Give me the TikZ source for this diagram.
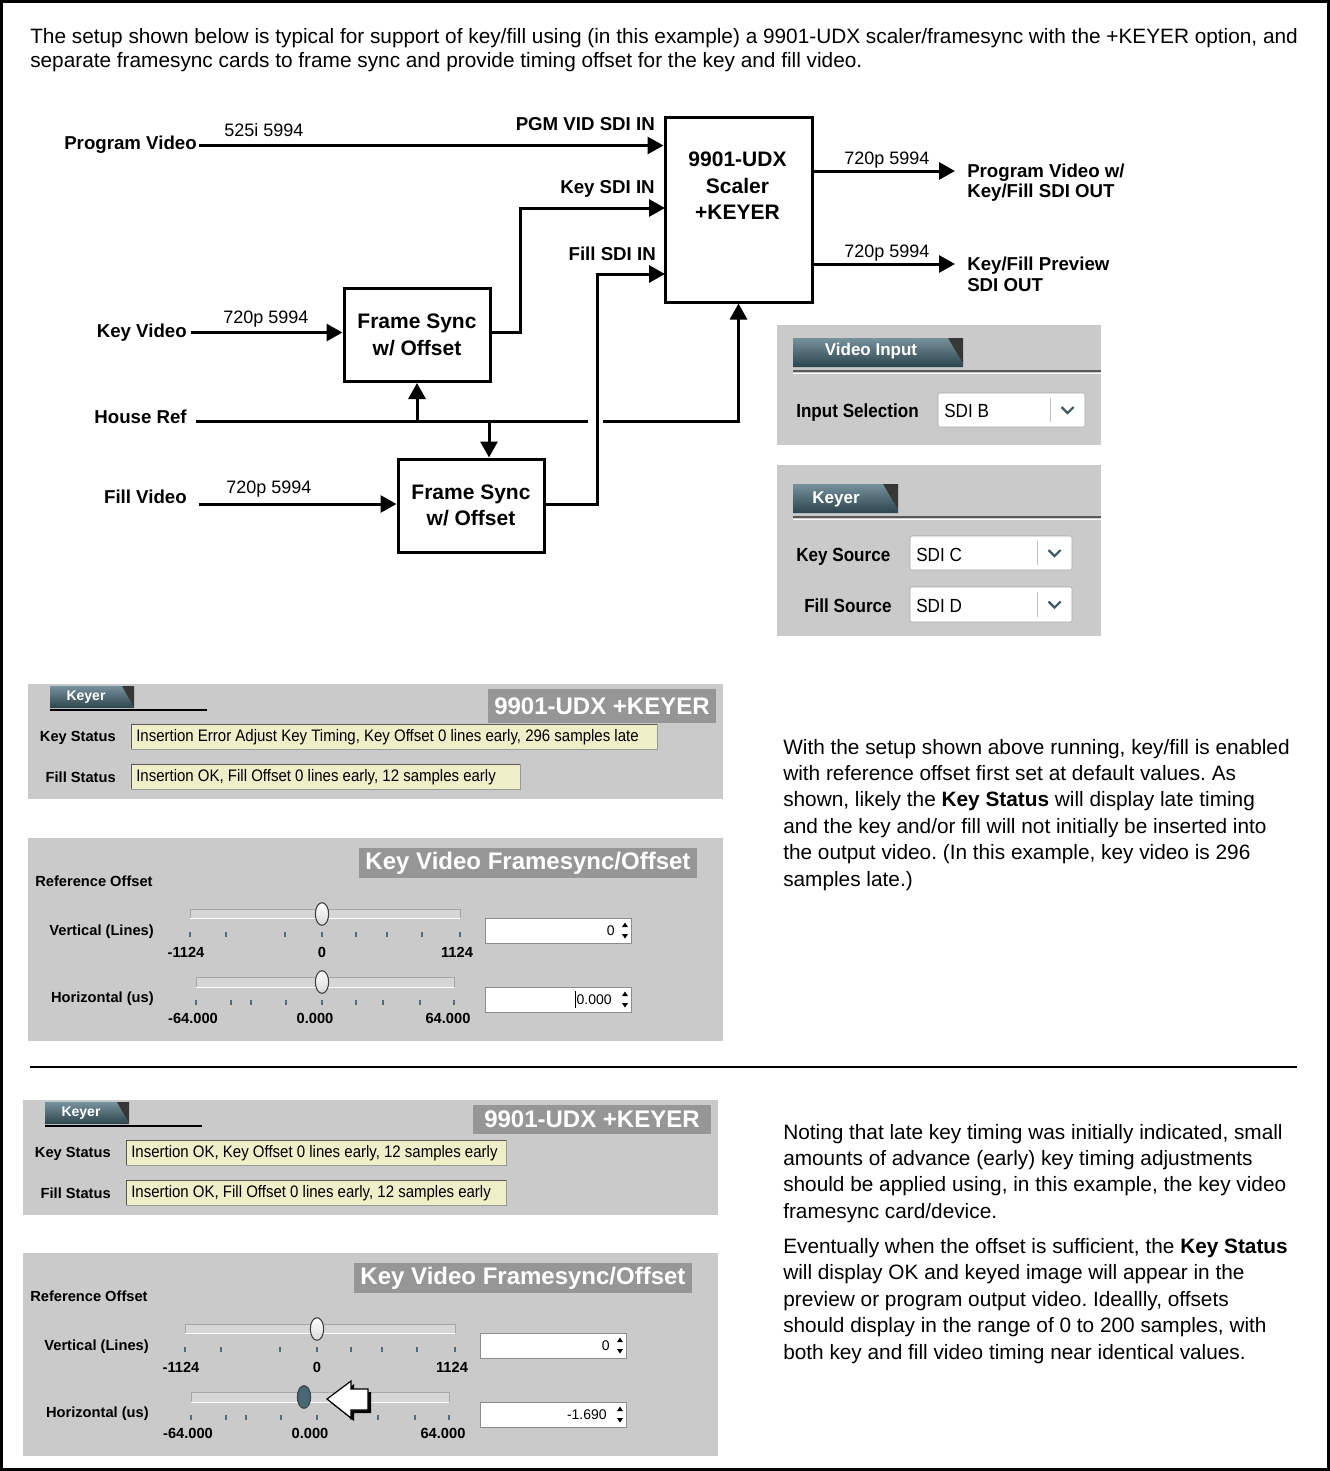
\documentclass[tikz,border=0pt]{standalone}
\usepackage{fontspec}
\setmainfont{Liberation Sans}
\newfontfamily\uifont[FakeStretch=0.9]{Liberation Sans}
\usetikzlibrary{arrows.meta,calc}
\frenchspacing
\definecolor{panelbg}{RGB}{202,202,202}
\definecolor{fieldy}{RGB}{238,238,200}
\definecolor{titlegray}{RGB}{150,150,150}
\definecolor{tabtop}{RGB}{118,146,156}
\definecolor{tabbot}{RGB}{44,68,78}
\definecolor{tabdark}{RGB}{55,55,55}
\definecolor{tickc}{RGB}{80,110,120}
\definecolor{chevc}{RGB}{60,90,100}
\definecolor{trackc}{RGB}{214,214,214}
\definecolor{thumbdark}{RGB}{72,104,118}

\tikzset{
 lbl/.style={font=\fontsize{14}{16}\selectfont\bfseries, inner sep=0pt},
 rate/.style={font=\fontsize{13.5}{15}\selectfont, inner sep=0pt, anchor=base west},
 blk/.style={draw, line width=2.25pt, inner sep=0pt},
 blktxt/.style={font=\fontsize{15.75}{19.7}\selectfont\bfseries, align=center, inner sep=0pt},
 wire/.style={line width=2.25pt},
 arr/.style={line width=2.25pt, -{Triangle[length=12pt,width=12.75pt]}},
 body/.style={font=\fontsize{15.6}{18}\selectfont, anchor=base west, inner sep=0pt},
 uir/.style={font=\uifont\fontsize{14.25}{17}\selectfont\bfseries, inner sep=0pt, anchor=base west},
 uirv/.style={font=\uifont\fontsize{14.25}{17}\selectfont, inner sep=0pt, anchor=base west},
 uib/.style={font=\fontsize{11}{13}\selectfont\bfseries, inner sep=0pt},
 fieldtxt/.style={font=\uifont\fontsize{12.5}{14}\selectfont, inner sep=0pt, anchor=base west},
 valtxt/.style={font=\fontsize{10.5}{12}\selectfont, inner sep=0pt, anchor=base east},
 titletxt/.style={font=\fontsize{18}{21}\selectfont\bfseries, text=white, inner sep=0pt},
 tabtxt/.style={font=\fontsize{12.75}{15}\selectfont\bfseries, text=white, inner sep=0pt, anchor=base},
 stabtxt/.style={font=\fontsize{10.5}{12}\selectfont\bfseries, text=white, inner sep=0pt, anchor=base},
}

% dropdown: #1 x1, #2 y1, #3 x2, #4 y2, #5 separator x
\newcommand\DropBox[5]{%
 \filldraw[fill=white, draw=black!35, rounded corners=1.5pt] (#1,#2) rectangle (#3,#4);
 \draw[black!25] (#5,{#2+5}) -- (#5,{#4-5});
 \draw[chevc, line width=1.6pt] ({(#5+#3)/2-6},{(#2+#4)/2-3}) -- ({(#5+#3)/2},{(#2+#4)/2+3}) -- ({(#5+#3)/2+6},{(#2+#4)/2-3});
}

% status panel: #1 shift, #2 suffix, #3 key text, #4 key field right, #5 fill field right, #6 title left, #7 title bottom
\newcommand\StatusPanel[7]{%
\begin{scope}[shift={#1}]
 \fill[panelbg] (28,684) rectangle (723,799);
 \shade[top color=tabtop, bottom color=tabbot] (50,686) -- (122,686) -- (134,708) -- (50,708) -- cycle;
 \fill[tabdark] (122,686) -- (134,686) -- (134,708) -- cycle;
 \draw[line width=1.2pt] (50,710) -- (207,710);
 \node[stabtxt] (kt#2) at (86,700) {Keyer};
 \fill[titlegray] (#6,689) rectangle (716,#7);
 \node[titletxt] (tt#2) at ({(#6+716)/2},{(689+#7)/2}) {9901-UDX +KEYER};
 \node[uib, anchor=base east] (ks#2) at (116,741) {Key Status};
 \filldraw[fill=fieldy, draw=black!40] (131,724) rectangle (#4,749);
 \draw[black!65] (131,749) -- (131,724) -- (#4,724);
 \node[fieldtxt] (kf#2) at (136,741) {#3};
 \node[uib, anchor=base east] (fs#2) at (116,782) {Fill Status};
 \filldraw[fill=fieldy, draw=black!40] (131,764) rectangle (#5,789);
 \draw[black!65] (131,789) -- (131,764) -- (#5,764);
 \node[fieldtxt] (ff#2) at (136,781) {Insertion OK, Fill Offset 0 lines early, 12 samples early};
\end{scope}}

% slider panel: #1 shift, #2 suffix, #3 h thumb x, #4 h value, #5 thumb fill
\newcommand\SliderPanel[5]{%
\begin{scope}[shift={#1}]
 \fill[panelbg] (28,838) rectangle (723,1041);
 \fill[titlegray] (359,848) rectangle (697,878);
 \node[titletxt] (kvt#2) at (528,863) {Key Video Framesync/Offset};
 \node[uib, anchor=base west] (ro#2) at (35,886) {Reference Offset};
 \node[uib, anchor=base east] (vl#2) at (154,935) {Vertical (Lines)};
 \node[uib, anchor=base east] (hl#2) at (154,1002) {Horizontal (us)};
 % vertical slider
 \fill[trackc] (190,909) rectangle (460,918);
 \draw[black!35] (190,918) -- (190,909) -- (460,909) -- (460,918);
 \draw[white, line width=1pt] (190,918.7) -- (460,918.7);
 \foreach \t in {190,226,285,322,356,387,422,460} \draw[tickc, line width=0.9pt] (\t,932) -- (\t,937);
 \draw[draw=black!75, line width=0.8pt, top color=white, bottom color=black!15] (322,914) ellipse [x radius=5pt, y radius=8.5pt];
 \node[uib, anchor=base] (vmin#2) at (186,957) {-1124};
 \node[uib, anchor=base] (vmid#2) at (322,957) {0};
 \node[uib, anchor=base] (vmax#2) at (457,957) {1124};
 \filldraw[fill=white, draw=black!45] (485,918) rectangle (631,943);
 \node[valtxt] (vval#2) at (615,935) {0};
 \fill (622,927) -- (628,927) -- (625,922.5) -- cycle;
 \fill (622,934) -- (628,934) -- (625,938.5) -- cycle;
 % horizontal slider
 \fill[trackc] (196,977) rectangle (454,987);
 \draw[black!35] (196,987) -- (196,977) -- (454,977) -- (454,987);
 \draw[white, line width=1pt] (196,987.7) -- (454,987.7);
 \foreach \t in {196,231,251,286,322,356,383,420,454} \draw[tickc, line width=0.9pt] (\t,1000) -- (\t,1005);
 \draw[draw=black!75, line width=0.8pt, #5] (#3,982) ellipse [x radius=5pt, y radius=8.5pt];
 \node[uib, anchor=base] (hmin#2) at (193,1023) {-64.000};
 \node[uib, anchor=base] (hmid#2) at (315,1023) {0.000};
 \node[uib, anchor=base] (hmax#2) at (448,1023) {64.000};
 \filldraw[fill=white, draw=black!45] (485,987) rectangle (631,1012);
 \node[valtxt] (hval#2) at (612,1004) {#4};
 \fill (622,996) -- (628,996) -- (625,991.5) -- cycle;
 \fill (622,1003) -- (628,1003) -- (625,1007.5) -- cycle;
\end{scope}}

\begin{document}
\begin{tikzpicture}[x=0.75pt,y=-0.75pt]
\useasboundingbox (0,0) rectangle (1330,1471);
\fill[white] (0,0) rectangle (1330,1471);
\draw[line width=2.25pt] (1.5,1.5) rectangle (1328.5,1469.5);

% intro
\node[body] (intro1) at (30,43) {The setup shown below is typical for support of key/fill using (in this example) a 9901-UDX scaler/framesync with the +KEYER option, and};
\node[body] (intro2) at (30,67) {separate framesync cards to frame sync and provide timing offset for the key and fill video.};

% ---------- block diagram ----------
\node[blk, minimum width=147*0.75pt, minimum height=185*0.75pt] (main) at (738.5,209.5) {};
\node[blktxt, anchor=north] (maintxt) at (737.5,152) {9901-UDX\\Scaler\\+KEYER};
\node[blk, blktxt, minimum width=146*0.75pt, minimum height=93*0.75pt] (fsk) at (417,335) {Frame Sync\\w/ Offset};
\node[blk, blktxt, minimum width=146*0.75pt, minimum height=93*0.75pt] (fsf) at (471,505.5) {Frame Sync\\w/ Offset};

\node[lbl, anchor=base east] (pv) at (197,149) {Program Video};
\node[lbl, anchor=base east] (kv) at (187,337) {Key Video};
\node[lbl, anchor=base east] (hr) at (187,423) {House Ref};
\node[lbl, anchor=base east] (fv) at (187,503) {Fill Video};

\node[rate] (r1) at (224,136) {525i 5994};
\node[rate] (r2) at (223,323) {720p 5994};
\node[rate] (r3) at (226,493) {720p 5994};
\node[rate] (r4) at (844,164) {720p 5994};
\node[rate] (r5) at (844,257) {720p 5994};

\node[lbl, anchor=base east] (pgmin) at (655,130) {PGM VID SDI IN};
\node[lbl, anchor=base east] (keyin) at (655,193) {Key SDI IN};
\node[lbl, anchor=base east] (fillin) at (656,260) {Fill SDI IN};

\node[lbl, anchor=base west] (out1a) at (967,177) {Program Video w/};
\node[lbl, anchor=base west] (out1b) at (967,197) {Key/Fill SDI OUT};
\node[lbl, anchor=base west] (out2a) at (967,270) {Key/Fill Preview};
\node[lbl, anchor=base west] (out2b) at (967,291) {SDI OUT};

\coordinate (pvs) at (199,145.5);
\coordinate (kvs) at (191,332.5);
\coordinate (fvs) at (199,504);
\coordinate (hrs) at (196,421.5);
\coordinate (gapl) at (588,421.5);
\coordinate (gapr) at (603,421.5);
\coordinate (hrd) at (489,421.5);
\coordinate (kin) at (665,208);
\coordinate (fin) at (665,274);
\coordinate (o1) at (955,171);
\coordinate (o2) at (955,264);

\draw[arr] (pvs) -- (pvs -| main.west);
\draw[arr] (kvs) -- (kvs -| fsk.west);
\draw[arr] (fvs) -- (fvs -| fsf.west);
\draw[arr] (fsk.east |- kvs) -- (520,332.5) |- (kin);
\draw[arr] (fsf.east |- fvs) -- (597,504) |- (fin);
\draw[wire] (hrs) -- (gapl);
\draw[arr] (gapr) -| (main.south);
\draw[arr] (fsk.south |- hrs) -- (fsk.south);
\draw[arr] (hrd) -- (hrd |- fsf.north);
\draw[arr] (main.east |- o1) -- (o1);
\draw[arr] (main.east |- o2) -- (o2);

% ---------- right UI panels ----------
\fill[panelbg] (777,325) rectangle (1101,445);
\shade[top color=tabtop, bottom color=tabbot] (793,338) -- (948,338) -- (963,364) -- (963,367) -- (793,367) -- cycle;
\fill[tabdark] (948,338) -- (963,338) -- (963,364) -- cycle;
\node[tabtxt] (vitab) at (871,355) {Video Input};
\draw[black!65, line width=1.2pt] (793,371) -- (1101,371);
\draw[white, line width=1pt] (793,373.5) -- (1101,373.5);
\node[uir] (insel) at (796,417) {Input Selection};
\DropBox{938}{393}{1085}{427}{1050}
\node[uirv] (sdib) at (944,417) {SDI B};

\fill[panelbg] (777,465) rectangle (1101,636);
\shade[top color=tabtop, bottom color=tabbot] (793,484) -- (883,484) -- (898,510) -- (898,513) -- (793,513) -- cycle;
\fill[tabdark] (883,484) -- (898,484) -- (898,510) -- cycle;
\node[tabtxt] (kytab) at (836,503) {Keyer};
\draw[black!65, line width=1.2pt] (793,517) -- (1101,517);
\draw[white, line width=1pt] (793,519.5) -- (1101,519.5);
\node[uir] (ksrc) at (796,561) {Key Source};
\DropBox{910}{536}{1072}{570}{1037}
\node[uirv] (sdic) at (916,561) {SDI C};
\node[uir] (fsrc) at (804,612) {Fill Source};
\DropBox{910}{587}{1072}{622}{1037}
\node[uirv] (sdid) at (916,612) {SDI D};

% ---------- lower screenshots ----------
\StatusPanel{(0,0)}{a}{Insertion Error Adjust Key Timing, Key Offset 0 lines early, 296 samples late}{657}{520}{488}{723}
\SliderPanel{(0,0)}{a}{322}{0.000}{top color=white, bottom color=black!15}
\draw[line width=0.6pt] (575,991) -- (575,1008);

\draw[line width=1.5pt] (30,1067) -- (1297,1067);

\StatusPanel{(-5,416)}{b}{Insertion OK, Key Offset 0 lines early, 12 samples early}{511}{511}{478}{718}
\SliderPanel{(-5,415)}{b}{309}{-1.690}{fill=thumbdark}

% big pointer arrow
\fill[black] (330,1402) -- (354,1384) -- (354,1392) -- (371,1392) -- (371,1413) -- (354,1413) -- (354,1421) -- cycle;
\filldraw[fill=white, draw=black, line width=0.9pt] (327,1399) -- (351,1381) -- (351,1389) -- (368,1389) -- (368,1410) -- (351,1410) -- (351,1418) -- cycle;

% ---------- right text ----------
\node[body] (p1a) at (783,754) {With the setup shown above running, key/fill is enabled};
\node[body] (p1b) at (783,780.4) {with reference offset first set at default values. As};
\node[body] (p1c) at (783,806.8) {shown, likely the \textbf{Key Status} will display late timing};
\node[body] (p1d) at (783,833.2) {and the key and/or fill will not initially be inserted into};
\node[body] (p1e) at (783,859.6) {the output video. (In this example, key video is 296};
\node[body] (p1f) at (783,886) {samples late.)};

\node[body] (p2a) at (783,1139) {Noting that late key timing was initially indicated, small};
\node[body] (p2b) at (783,1165.3) {amounts of advance (early) key timing adjustments};
\node[body] (p2c) at (783,1191.6) {should be applied using, in this example, the key video};
\node[body] (p2d) at (783,1218) {framesync card/device.};

\node[body] (p3a) at (783,1253) {Eventually when the offset is sufficient, the \textbf{Key Status}};
\node[body] (p3b) at (783,1279.5) {will display OK and keyed image will appear in the};
\node[body] (p3c) at (783,1306) {preview or program output video. Ideallly, offsets};
\node[body] (p3d) at (783,1332.5) {should display in the range of 0 to 200 samples, with};
\node[body] (p3e) at (783,1359) {both key and fill video timing near identical values.};
\end{tikzpicture}
\end{document}
